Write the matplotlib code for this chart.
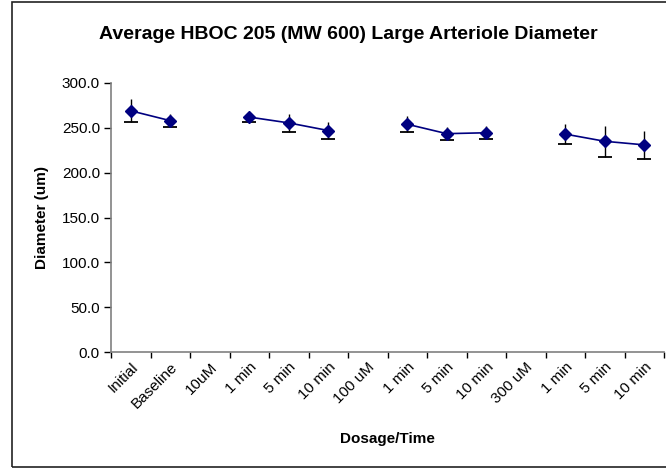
import matplotlib
matplotlib.use('Agg')
import matplotlib.pyplot as plt
from matplotlib.patches import Rectangle
from matplotlib.transforms import ScaledTranslation
import numpy as np

labels = ['Initial', 'Baseline', '10uM', '1 min', '5 min', '10 min', '100 uM',
          '1 min', '5 min', '10 min', '300 uM', '1 min', '5 min', '10 min']
means = [269, 258, np.nan, 262, 255.5, 247, np.nan,
         254, 243.5, 244.5, np.nan, 243, 235, 231]
errs = [13, 7, np.nan, 5, 10, 10, np.nan,
        9, 7, 7, np.nan, 11, 17, 16]

plt.rcParams['font.family'] = ['Liberation Sans', 'DejaVu Sans']

fig = plt.figure(figsize=(6.66, 4.68), dpi=100)
ax = fig.add_axes([111/666, 1 - 352/468, 553/666, 269/468])

x = np.arange(len(labels))
y = np.array(means, dtype=float)
e = np.array(errs, dtype=float)

# error bars (cap only at the bottom, like the original)
ax.errorbar(x, y, yerr=e, fmt='none', ecolor='black', elinewidth=1.0, capsize=0, zorder=2)
ax.plot(x, y - e, ls='none', marker='_', color='black', markersize=10, mew=1.3, zorder=2)
ax.plot(x, y, color='#000080', lw=1.2, marker='D', markersize=6, zorder=3)

ax.set_xlim(-0.5, len(labels) - 0.5)
ax.set_ylim(0, 300)
ax.set_yticks(np.arange(0, 301, 50))
ax.set_yticklabels(['%.1f' % v for v in np.arange(0, 301, 50)], fontsize=11)

ax.set_xticks(np.arange(-0.5, len(labels), 1.0))
ax.set_xticklabels([])
ax.set_xticks(x, minor=True)
ax.set_xticklabels(labels, minor=True, rotation=45, ha='right', va='top',
                   rotation_mode='anchor', fontsize=11)
shift = ScaledTranslation(-7/100, 0, fig.dpi_scale_trans)
for lab in ax.get_xticklabels(minor=True):
    lab.set_transform(lab.get_transform() + shift)
ax.tick_params(axis='x', which='minor', length=0, pad=6)
ax.tick_params(axis='x', which='major', length=4, width=1, direction='out', color='black')
ax.tick_params(axis='y', length=5, width=1, direction='out', color='black', pad=3)

for s in ['top', 'right']:
    ax.spines[s].set_visible(False)
for s in ['left', 'bottom']:
    ax.spines[s].set_color('#808080')
    ax.spines[s].set_linewidth(1.2)

ax.set_ylabel('Diameter (um)', fontsize=11, fontweight='bold')
ax.set_xlabel('Dosage/Time', fontsize=11, fontweight='bold')
ax.xaxis.set_label_coords((387 - 111) / 553, -(432 - 352) / 269)
ax.yaxis.set_label_coords(-(111 - 49) / 553, 0.5)

fig.text(348/666, 1 - 39/468, 'Average HBOC 205 (MW 600) Large Arteriole Diameter',
         ha='center', va='baseline', fontsize=14, fontweight='bold')

fig.patches.append(Rectangle((12/666, 1/468), 1.0, 465/468, transform=fig.transFigure,
                             fill=False, edgecolor='#222222', lw=1.2))

plt.savefig('out.png', dpi=100, facecolor='white')
